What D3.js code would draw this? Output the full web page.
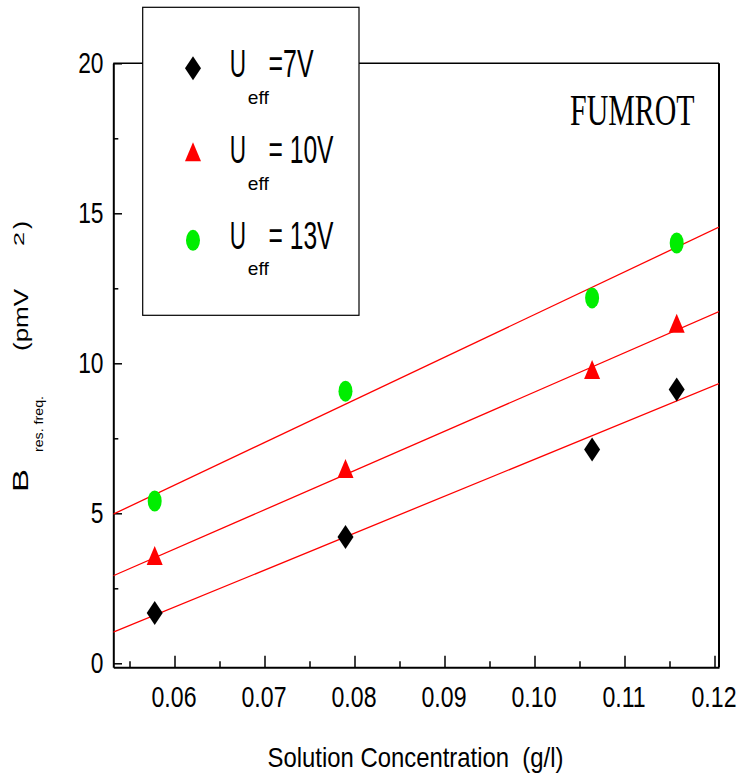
<!DOCTYPE html>
<html><head><meta charset="utf-8">
<script src="https://cdn.jsdelivr.net/npm/d3@7"></script>
<style>body{margin:0;background:#fff} svg{display:block} text{white-space:pre}</style>
</head><body><svg id="c" width="742" height="775"></svg>
<script>
const concentration = [0.0578, 0.0790, 0.1064, 0.1158];
const series7V  = [1.68, 4.21, 7.13, 9.13];
const series10V = [3.49, 6.39, 9.69, 11.23];
const series13V = [5.41, 9.07, 12.18, 14.01];
const seriesLabels = ["=7V", "= 10V", "= 13V"];
const xMajorTicks = [0.06, 0.07, 0.08, 0.09, 0.10, 0.11, 0.12];
const xMinorTicks = [0.055, 0.065, 0.075, 0.085, 0.095, 0.105, 0.115];
const yMajorTicks = [0, 5, 10, 15, 20];
const yMinorTicks = [2.5, 7.5, 12.5, 17.5];

const SANS = "'Liberation Sans', Arial, sans-serif";
const SERIF = "'Liberation Serif', 'Times New Roman', serif";
const svg = d3.select("#c");
const L = 113.3, R = 719, T = 63.3, B = 667.3;
const x = d3.scaleLinear().domain([0.0532, 0.1205]).range([L, R]);
const y = d3.scaleLinear().domain([-0.1333, 20]).range([B, T]);

function fitText(parent, str, px, py, size, len, family) {
  return parent.append("text").attr("x", px).attr("y", py)
    .attr("font-size", size).attr("font-family", family || SANS)
    .attr("textLength", len).attr("lengthAdjust", "spacingAndGlyphs")
    .attr("fill", "#000").text(str);
}
function squeezeText(parent, str, px, py, size, sx, family) {
  return parent.append("text").attr("x", 0).attr("y", 0)
    .attr("transform", `translate(${px},${py}) scale(${sx},1)`)
    .attr("font-size", size).attr("font-family", family || SANS)
    .attr("fill", "#000").text(str);
}

// frame top/right
svg.append("line").attr("x1", L).attr("x2", R).attr("y1", T).attr("y2", T)
  .attr("stroke", "#000").attr("stroke-width", 1.5);
svg.append("line").attr("x1", R).attr("x2", R).attr("y1", T).attr("y2", B)
  .attr("stroke", "#000").attr("stroke-width", 2);

// bottom axis
const gx = svg.append("g").attr("transform", `translate(0,${B})`)
  .call(d3.axisBottom(x).tickValues(xMajorTicks).tickSize(-11.5).tickSizeOuter(0)
    .tickPadding(0).tickFormat(d3.format(".2f")));
gx.attr("font-size", 30).attr("font-family", SANS);
gx.select(".domain").attr("stroke-width", 2);
gx.selectAll(".tick line").attr("stroke-width", 1.5);
gx.selectAll(".tick text").attr("y", null).attr("dy", null).attr("fill", "#000")
  .attr("transform", "translate(-1,39.4) scale(0.77,1)");
const gxm = svg.append("g").attr("transform", `translate(0,${B})`)
  .call(d3.axisBottom(x).tickValues(xMinorTicks).tickSize(-6).tickSizeOuter(0).tickFormat(""));
gxm.select(".domain").remove();
gxm.selectAll(".tick line").attr("stroke-width", 1.5);

// left axis
const gy = svg.append("g").attr("transform", `translate(${L},0)`)
  .call(d3.axisLeft(y).tickValues(yMajorTicks).tickSize(-8.7).tickSizeOuter(0)
    .tickPadding(0).tickFormat(d3.format("d")));
gy.attr("font-size", 30).attr("font-family", SANS);
gy.select(".domain").attr("stroke-width", 2);
gy.selectAll(".tick line").attr("stroke-width", 1.5);
gy.selectAll(".tick text").attr("x", 0).attr("dy", null).attr("fill", "#000")
  .attr("text-anchor", "end").attr("transform", "translate(-9.8,9) scale(0.76,1)");
const gym = svg.append("g").attr("transform", `translate(${L},0)`)
  .call(d3.axisLeft(y).tickValues(yMinorTicks).tickSize(-5).tickSizeOuter(0).tickFormat(""));
gym.select(".domain").remove();
gym.selectAll(".tick line").attr("stroke-width", 1.5);

// fits
function linfit(xs, ys) {
  const mx = d3.mean(xs), my = d3.mean(ys);
  const sxy = d3.sum(xs, (v, i) => (v - mx) * (ys[i] - my));
  const sxx = d3.sum(xs, v => (v - mx) * (v - mx));
  const m = sxy / sxx;
  return v => my + m * (v - mx);
}
svg.append("clipPath").attr("id", "clip").append("rect")
  .attr("x", L).attr("y", T).attr("width", R - L).attr("height", B - T);
const allSeries = [series7V, series10V, series13V];
const lineGen = d3.line().x(d => x(d[0])).y(d => y(d[1]));
const gl = svg.append("g").attr("clip-path", "url(#clip)");
allSeries.forEach(s => {
  const f = linfit(concentration, s);
  const xs = x.domain();
  gl.append("path").attr("d", lineGen(xs.map(v => [v, f(v)])))
    .attr("fill", "none").attr("stroke", "#ff0000").attr("stroke-width", 1.3);
});

// symbols
const symDefs = [
  {gen: d3.symbol().type(d3.symbolSquare).size(128), fill: "#000", tf: "scale(1,1.5) rotate(45)"},
  {gen: d3.symbol().type(d3.symbolTriangle).size(110.9), fill: "#ff0000", tf: "scale(1,1.37)"},
  {gen: d3.symbol().type(d3.symbolCircle).size(153.9), fill: "#00ee00", tf: "scale(1,1.5)"}
];
allSeries.forEach((s, k) => {
  svg.append("g").selectAll("path").data(s).join("path")
    .attr("d", symDefs[k].gen())
    .attr("fill", symDefs[k].fill)
    .attr("transform", (d, i) => `translate(${x(concentration[i])},${y(d)}) ${symDefs[k].tf}`);
});

// legend
const lg = svg.append("g");
lg.append("rect").attr("x", 142.7).attr("y", 7.3).attr("width", 216.3).attr("height", 308)
  .attr("fill", "#fff").attr("stroke", "#000").attr("stroke-width", 1.2);
const rowBase = [77.3, 163.3, 248.5];
const symY = [68.3, 155, 240.3];
const labelW = [45, 65, 65];
seriesLabels.forEach((lab, k) => {
  lg.append("path").attr("d", symDefs[k].gen()).attr("fill", symDefs[k].fill)
    .attr("transform", `translate(193,${symY[k]}) ${symDefs[k].tf}`);
  fitText(lg, "U", 229.7, rowBase[k], 38, 16.3);
  fitText(lg, "eff", 247.8, rowBase[k] + 26.5, 19, 21);
  fitText(lg, lab, 268.5, rowBase[k], 38, labelW[k]);
});

// annotation
squeezeText(svg, "FUMROT", 570, 125, 44, 0.68, SERIF);

// x title
fitText(svg, "Solution Concentration  (g/l)", 267.5, 766.7, 28, 296);

// y title
const yt = svg.append("g").attr("transform", "translate(28,492) rotate(-90)");
fitText(yt, "B", 0, 0, 22, 23);
fitText(yt, "res. freq.", 40, 15, 13, 56);
fitText(yt, "(pmV", 141, 0, 21, 62);
fitText(yt, "2", 246, -4.5, 15, 14);
fitText(yt, ")", 263, 0, 21, 8);
</script></body></html>
